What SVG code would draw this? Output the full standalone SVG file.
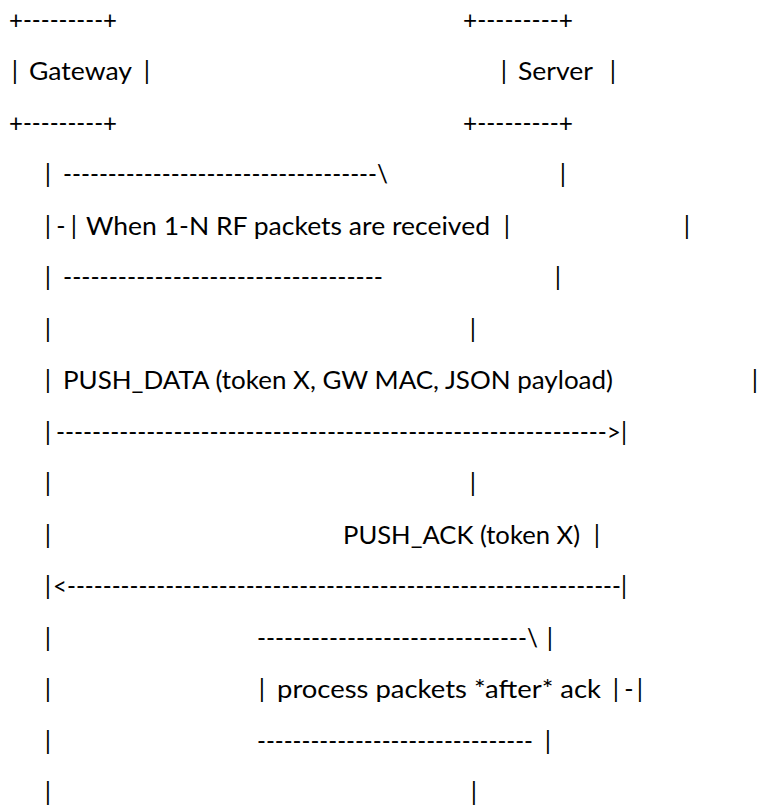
<svg xmlns="http://www.w3.org/2000/svg" width="758" height="810" viewBox="0 0 758 810">
<style>
text{font-family:Lato,"Liberation Sans",sans-serif;font-size:25px;fill:#000}
.c{text-anchor:middle}
</style>
<rect width="758" height="810" fill="#fff"/>
<g id="gateway">
<text x="9" y="28.5" textLength="108" lengthAdjust="spacingAndGlyphs">+---------+</text>
<text class="c" x="15" y="80">|</text>
<text x="29" y="80" textLength="103" lengthAdjust="spacingAndGlyphs">Gateway</text>
<text class="c" x="147" y="80">|</text>
<text x="9" y="131.5" textLength="108" lengthAdjust="spacingAndGlyphs">+---------+</text>
</g>
<g id="server">
<text x="463" y="28.5" textLength="110" lengthAdjust="spacingAndGlyphs">+---------+</text>
<text class="c" x="504" y="80">|</text>
<text x="518" y="80" textLength="75" lengthAdjust="spacingAndGlyphs">Server</text>
<text class="c" x="613" y="80">|</text>
<text x="463" y="131.5" textLength="110" lengthAdjust="spacingAndGlyphs">+---------+</text>
</g>
<g id="note-rf">
<text x="63" y="183" textLength="325" lengthAdjust="spacingAndGlyphs">-----------------------------------\</text>
<text class="c" x="61" y="234.5">-</text>
<text class="c" x="74" y="234.5">|</text>
<text x="86" y="234.5" textLength="404" lengthAdjust="spacingAndGlyphs">When 1-N RF packets are received</text>
<text class="c" x="507" y="234.5">|</text>
<text x="63" y="286" textLength="320" lengthAdjust="spacingAndGlyphs">-----------------------------------</text>
</g>
<g id="note-process">
<text x="257" y="646.5" textLength="281" lengthAdjust="spacingAndGlyphs">------------------------------\</text>
<text class="c" x="262" y="698">|</text>
<text x="277" y="698" textLength="324" lengthAdjust="spacingAndGlyphs">process packets *after* ack</text>
<text class="c" x="616" y="698">|</text>
<text class="c" x="629" y="698">-</text>
<text x="257" y="749.5" textLength="276" lengthAdjust="spacingAndGlyphs">-------------------------------</text>
</g>
<g id="connectors">
<g id="gateway-lifeline">
<text class="c" x="48" y="183">|</text>
<text class="c" x="48" y="234.5">|</text>
<text class="c" x="48" y="286">|</text>
<text class="c" x="48" y="337.5">|</text>
<text class="c" x="48" y="389">|</text>
<text class="c" x="48" y="440.5">|</text>
<text class="c" x="48" y="492">|</text>
<text class="c" x="48" y="543.5">|</text>
<text class="c" x="48" y="595">|</text>
<text class="c" x="48" y="646.5">|</text>
<text class="c" x="48" y="698">|</text>
<text class="c" x="48" y="749.5">|</text>
<text class="c" x="48" y="801">|</text>
</g>
<g id="server-lifeline">
<text class="c" x="563" y="183">|</text>
<text class="c" x="687" y="234.5">|</text>
<text class="c" x="558" y="286">|</text>
<text class="c" x="473" y="337.5">|</text>
<text class="c" x="755" y="389">|</text>
<text class="c" x="473" y="492">|</text>
<text class="c" x="597" y="543.5">|</text>
<text class="c" x="550" y="646.5">|</text>
<text class="c" x="640" y="698">|</text>
<text class="c" x="548" y="749.5">|</text>
<text class="c" x="474" y="801">|</text>
</g>
<g id="push-data">
<text x="63" y="389" textLength="550" lengthAdjust="spacingAndGlyphs">PUSH_DATA (token X, GW MAC, JSON payload)</text>
<text x="56" y="440.5" textLength="571" lengthAdjust="spacingAndGlyphs">-------------------------------------------------------------&gt;|</text>
</g>
<g id="push-ack">
<text x="343" y="543.5" textLength="237" lengthAdjust="spacingAndGlyphs">PUSH_ACK (token X)</text>
<text x="53" y="595" textLength="574" lengthAdjust="spacingAndGlyphs">&lt;--------------------------------------------------------------|</text>
</g>
</g>
</svg>
